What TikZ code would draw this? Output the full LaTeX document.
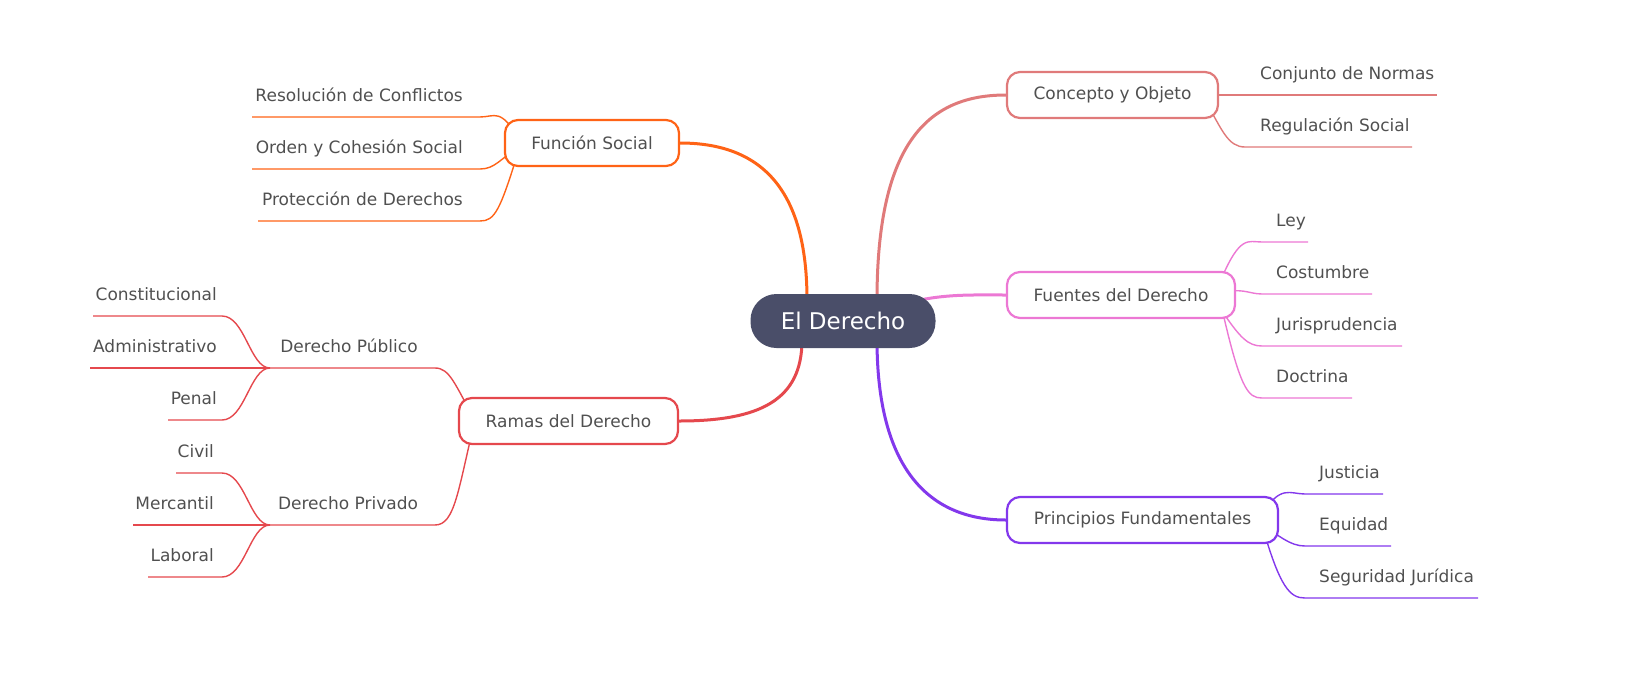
\documentclass[tikz,border=0pt]{standalone}
\usepackage{fontspec}
\setmainfont{DejaVu Sans}
\pgfdeclarelayer{bg}
\pgfsetlayers{bg,main}
\definecolor{cen}{HTML}{4A4E69}
\definecolor{cco}{HTML}{E07A7A}
\definecolor{cfu}{HTML}{EC78D4}
\definecolor{cpr}{HTML}{8338EC}
\definecolor{cfs}{HTML}{FF6316}
\definecolor{cra}{HTML}{E5484D}
\definecolor{txt}{HTML}{505050}
\tikzset{
 box/.style={draw=#1,line width=2.2pt,rounded corners=13pt,fill=white,text=txt,font=\fontsize{17}{19}\selectfont,inner sep=0pt,minimum height=46pt},
 lab/.style={text=txt,font=\fontsize{17}{19}\selectfont,inner sep=0pt},
 main/.style={draw=#1,line width=3pt},
 sub/.style={draw=#1,line width=1.4pt}
}
\begin{document}
\begin{tikzpicture}[x=1pt,y=-1pt]
\useasboundingbox (0,0) rectangle (1651,675);
\node[fill=cen,rounded corners=26pt,minimum width=185pt,minimum height=54pt,text=white,font=\fontsize{23}{26}\selectfont,inner sep=0pt] (c) at (843,321) {El Derecho};
\node[box=cco,minimum width=211pt] (co) at (1112.5,95) {Concepto y Objeto};
\node[box=cfu,minimum width=228pt] (fu) at (1121,295) {Fuentes del Derecho};
\node[box=cpr,minimum width=271pt] (pr) at (1142.5,520) {Principios Fundamentales};
\node[box=cfs,minimum width=174pt] (fs) at (592,143) {Función Social};
\node[box=cra,minimum width=219pt] (ra) at (568.5,421) {Ramas del Derecho};
\begin{pgfonlayer}{bg}
\draw[main=cco] (877,300) .. controls (877,140) and (930,95) .. (co.west);
\draw[main=cfu] (920,300) .. controls (950,294) and (975,295) .. (fu.west);
\draw[main=cpr] (877,340) .. controls (877,470) and (930,520) .. (pr.west);
\draw[main=cfs] (807,300) .. controls (807,200) and (770,143) .. (fs.east);
\draw[main=cra] (802,340) .. controls (802,400) and (760,421) .. (ra.east);
\coordinate (co1) at (1437,95);
\draw[sub=cco] (co.center) -- (co1);
\node[lab,anchor=base west] (tco1) at (1260,79) {Conjunto de Normas};
\coordinate (co2a) at (1245,147); \coordinate (co2) at (1412,147);
\draw[sub=cco] (1205,100) .. controls (1222,130) and (1228,147) .. (co2a) -- (co2);
\node[lab,anchor=base west] (tco2) at (1260,131) {Regulación Social};
\foreach \y/\e/\t/\sy in {242/1308/Ley/282, 294/1372/Costumbre/295, 346/1402/Jurisprudencia/308, 398/1352/Doctrina/300}{
  \draw[sub=cfu] (1220,\sy) .. controls (1240,\y-8) and (1248,\y) .. (1262,\y) -- (\e,\y);
  \node[lab,anchor=base west] at (1276,\y-16) {\t};
}
\foreach \y/\e/\t/\sy in {494/1383/Justicia/515, 546/1391/Equidad/525, 598/1478/Seguridad Jurídica/525}{
  \draw[sub=cpr] (1262,\sy) .. controls (1280,\y-10) and (1290,\y) .. (1305,\y) -- (\e,\y);
  \node[lab,anchor=base west] at (1319,\y-16) {\t};
}
\foreach \y/\s/\t/\sy in {117/252/Resolución de Conflictos/140, 169/252/Orden y Cohesión Social/146, 221/258/Protección de Derechos/146}{
  \draw[sub=cfs] (520,\sy) .. controls (500,\y-10) and (495,\y) .. (480,\y) -- (\s,\y);
  \node[lab,anchor=base east] at (463,\y-16) {\t};
}
\coordinate (pub) at (270,368); \coordinate (pri) at (270,525);
\draw[sub=cra] (475,420) .. controls (455,385) and (450,368) .. (435,368) -- (pub);
\draw[sub=cra] (475,420) .. controls (458,490) and (455,525) .. (435,525) -- (pri);
\node[lab,anchor=base] at (349,352) {Derecho Público};
\node[lab,anchor=base] at (348,509) {Derecho Privado};
\foreach \y/\s/\t in {316/93/Constitucional, 368/90/Administrativo, 420/168/Penal}{
  \draw[sub=cra] (pub) .. controls (250,368) and (245,\y) .. (222,\y) -- (\s,\y);
  \node[lab,anchor=base east] at (217,\y-16) {\t};
}
\foreach \y/\s/\t in {473/176/Civil, 525/133/Mercantil, 577/148/Laboral}{
  \draw[sub=cra] (pri) .. controls (250,525) and (245,\y) .. (222,\y) -- (\s,\y);
  \node[lab,anchor=base east] at (214,\y-16) {\t};
}
\end{pgfonlayer}
\end{tikzpicture}
\end{document}
